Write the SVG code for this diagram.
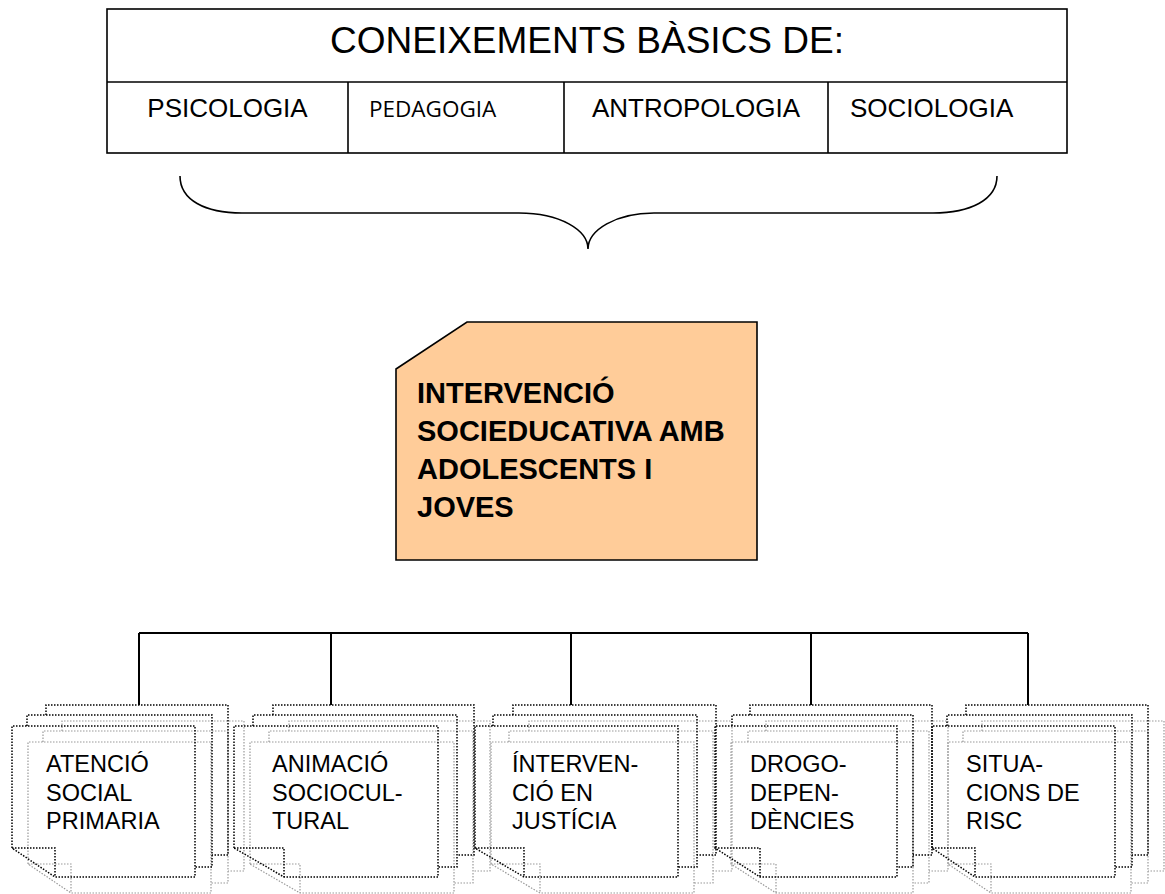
<svg xmlns="http://www.w3.org/2000/svg" width="1165" height="894" viewBox="0 0 1165 894">
<style>
.bg{fill:#fff}
.frame{fill:none;stroke:#000;stroke-width:1.6}
.t{font-family:"Liberation Sans",Arial,sans-serif;fill:#000}
.title{font-size:37px;text-anchor:middle}
.sub{font-size:26px}
.cal{font-family:"Open Sans","Noto Sans",sans-serif;font-size:22.5px}
.main{fill:#FFCC99;stroke:#000;stroke-width:1.6}
.bold{font-size:29px;font-weight:bold}
.wire{fill:none;stroke:#000;stroke-width:2}
.brace{fill:none;stroke:#000;stroke-width:1.6}
.dk{fill:none;stroke:#000;stroke-width:1.5;stroke-dasharray:1.5 1.5}
.gr{fill:none;stroke:#999;stroke-width:1.2;stroke-dasharray:1.5 1.5}
.lbl{font-size:23.5px}
</style>
<rect class="bg" x="0" y="0" width="1165" height="894"/>

<g id="conceixements">
<rect class="frame" x="107" y="9" width="960" height="144"/>
<line class="frame" x1="107" y1="82" x2="1067" y2="82"/>
<line class="frame" x1="348" y1="82" x2="348" y2="153"/>
<line class="frame" x1="564" y1="82" x2="564" y2="153"/>
<line class="frame" x1="828" y1="82" x2="828" y2="153"/>
<text class="t title" x="587" y="53">CONEIXEMENTS BÀSICS DE:</text>
<text class="t sub" x="227.5" y="117" text-anchor="middle">PSICOLOGIA</text>
<text class="cal" x="369" y="117">PEDAGOGIA</text>
<text class="t sub" x="696" y="117" text-anchor="middle">ANTROPOLOGIA</text>
<text class="t sub" x="850" y="117">SOCIOLOGIA</text>
</g>

<g id="brace">
<path class="brace" d="M180,176 C180,200 205,213 242,213 L519,213 C560,213 588,230 588,249 C588,230 616,213 654,213 L933,213 C970,213 997,200 997,176"/>
</g>

<g id="intervencio">
<path class="main" d="M396,369 L467,322 L757,322 L757,560 L396,560 Z"/>
<text class="t bold" x="417" y="403">INTERVENCIÓ</text>
<text class="t bold" x="417" y="441">SOCIEDUCATIVA AMB</text>
<text class="t bold" x="417" y="479">ADOLESCENTS I</text>
<text class="t bold" x="417" y="517">JOVES</text>
</g>

<g id="connectors">
<path class="wire" d="M139,633 L1028,633 M139,633 L139,705 M331,633 L331,705 M571,633 L571,705 M811,633 L811,705 M1028,633 L1028,705"/>
</g>

<g id="atencio">
<path class="gr" transform="translate(16,16)" d="M12,848 L12,726 L195,726 L195,877 L55,877 Z M12,848 L55,848 L55,877 M27,726 L27,715 L212,715 L212,867 L195,867 M46,715 L46,705 L228,705 L228,855 L212,855"/>
<path class="dk" d="M12,848 L12,726 L195,726 L195,877 L55,877 Z M12,848 L55,848 L55,877 M27,726 L27,715 L212,715 L212,867 L195,867 M46,715 L46,705 L228,705 L228,855 L212,855"/>
<text class="t lbl" x="46" y="772">ATENCIÓ</text>
<text class="t lbl" x="46" y="801">SOCIAL</text>
<text class="t lbl" x="46" y="829">PRIMARIA</text>
</g>

<g id="animacio">
<path class="gr" transform="translate(16,16)" d="M234,848 L234,726 L438,726 L438,877 L284,877 Z M234,848 L284,848 L284,877 M253,726 L253,715 L457,715 L457,867 L438,867 M273,715 L273,705 L474,705 L474,855 L457,855"/>
<path class="dk" d="M234,848 L234,726 L438,726 L438,877 L284,877 Z M234,848 L284,848 L284,877 M253,726 L253,715 L457,715 L457,867 L438,867 M273,715 L273,705 L474,705 L474,855 L457,855"/>
<text class="t lbl" x="272" y="772">ANIMACIÓ</text>
<text class="t lbl" x="272" y="801">SOCIOCUL-</text>
<text class="t lbl" x="272" y="829">TURAL</text>
</g>

<g id="justicia">
<path class="gr" transform="translate(16,16)" d="M475,848 L475,726 L678,726 L678,877 L524,877 Z M475,848 L524,848 L524,877 M493,726 L493,715 L697,715 L697,867 L678,867 M513,715 L513,705 L716,705 L716,855 L697,855"/>
<path class="dk" d="M475,848 L475,726 L678,726 L678,877 L524,877 Z M475,848 L524,848 L524,877 M493,726 L493,715 L697,715 L697,867 L678,867 M513,715 L513,705 L716,705 L716,855 L697,855"/>
<text class="t lbl" x="512" y="772">ÍNTERVEN-</text>
<text class="t lbl" x="512" y="801">CIÓ EN</text>
<text class="t lbl" x="512" y="829">JUSTÍCIA</text>
</g>

<g id="drogo">
<path class="gr" transform="translate(16,16)" d="M715,848 L715,726 L897,726 L897,877 L760,877 Z M715,848 L760,848 L760,877 M732,726 L732,715 L913,715 L913,867 L897,867 M750,715 L750,705 L932,705 L932,855 L913,855"/>
<path class="dk" d="M715,848 L715,726 L897,726 L897,877 L760,877 Z M715,848 L760,848 L760,877 M732,726 L732,715 L913,715 L913,867 L897,867 M750,715 L750,705 L932,705 L932,855 L913,855"/>
<text class="t lbl" x="750" y="772">DROGO-</text>
<text class="t lbl" x="750" y="801">DEPEN-</text>
<text class="t lbl" x="750" y="829">DÈNCIES</text>
</g>

<g id="situacions">
<path class="gr" transform="translate(16,16)" d="M932,848 L932,726 L1115,726 L1115,877 L975,877 Z M932,848 L975,848 L975,877 M947,726 L947,715 L1132,715 L1132,867 L1115,867 M966,715 L966,705 L1148,705 L1148,855 L1132,855"/>
<path class="dk" d="M932,848 L932,726 L1115,726 L1115,877 L975,877 Z M932,848 L975,848 L975,877 M947,726 L947,715 L1132,715 L1132,867 L1115,867 M966,715 L966,705 L1148,705 L1148,855 L1132,855"/>
<text class="t lbl" x="966" y="772">SITUA-</text>
<text class="t lbl" x="966" y="801">CIONS DE</text>
<text class="t lbl" x="966" y="829">RISC</text>
</g>
</svg>
